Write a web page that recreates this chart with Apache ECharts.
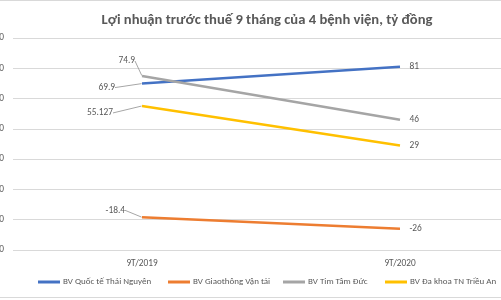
<!DOCTYPE html>
<html><head><meta charset="utf-8">
<script src="https://cdn.jsdelivr.net/npm/echarts@6/dist/echarts.min.js"></script>
<style>html,body{margin:0;padding:0;background:#fff}#c{width:501px;height:300px}</style>
</head><body><div id="c"></div>
<script>
const categories = ['9T/2019', '9T/2020'];
const seriesNames = ['BV Quốc tế Thái Nguyên', 'BV Giaothông Vận tải', 'BV Tim Tâm Đức', 'BV Đa khoa TN Triều An'];
const thaiNguyen = [69.9, 81];
const giaoThong = [-18.4, -26];
const timTamDuc = [74.9, 46];
const trieuAn = [55.127, 29];
const labelTexts = [['69.9', '81'], ['-18.4', '-26'], ['74.9', '46'], ['55.127', '29']];
const colors = ['#4472C4', '#ED7D31', '#A5A5A5', '#FFC000'];
const FONT = 'Carlito, Calibri, Lato, sans-serif';
// [right-edge dx, center dy] of the first-point label relative to its point
const firstOffsets = [[-27, 4], [-17, -7], [-7, -15], [-29, 7]];
const legendLefts = [38, 168, 283, 385];

const chart = echarts.init(document.getElementById('c'), null, {renderer: 'canvas'});
const dataSets = [thaiNguyen, giaoThong, timTamDuc, trieuAn];
const series = dataSets.map((d, i) => ({
  name: seriesNames[i],
  type: 'line',
  data: d.map((v, j) => ({value: v, labelLine: {show: j === 0}})),
  symbol: 'circle',
  symbolSize: 1,
  showSymbol: true,
  lineStyle: {width: 2.5, color: colors[i]},
  itemStyle: {color: 'rgba(0,0,0,0)', borderWidth: 0},
  label: {
    show: true, position: 'right', distance: 9,
    color: '#595959', fontFamily: FONT, fontSize: 9.4,
    formatter: p => labelTexts[i][p.dataIndex]
  },
  labelLine: {show: true, lineStyle: {color: '#A6A6A6', width: 1}},
  labelLayout: p => {
    if (p.dataIndex === 0) {
      const cx = p.rect.x + p.rect.width / 2, cy = p.rect.y + p.rect.height / 2;
      return {x: cx + firstOffsets[i][0], y: cy + firstOffsets[i][1], align: 'right', verticalAlign: 'middle'};
    }
    return {};
  }
}));

const legends = seriesNames.map((n, i) => ({
  data: [{name: n, itemStyle: {color: colors[i], opacity: 1}}],
  left: legendLefts[i], top: 277.5, padding: 0,
  itemWidth: 22, itemHeight: 3,
  icon: 'rect',
  textStyle: {fontFamily: FONT, fontSize: 9, color: '#595959', padding: [0, 0, 0, -2]}
}));

chart.setOption({
  animation: false,
  color: colors,
  title: {
    text: 'Lợi nhuận trước thuế 9 tháng của 4 bệnh viện, tỷ đồng',
    left: 262, top: 8, textAlign: 'center',
    textStyle: {fontFamily: FONT, fontSize: 14.6, fontWeight: 'bold', color: '#595959'}
  },
  legend: legends,
  grid: {left: 13, top: 38, width: 516, height: 212, containLabel: false, outerBoundsMode: 'none'},
  xAxis: {
    type: 'category', data: categories, boundaryGap: true,
    axisLine: {show: false}, axisTick: {show: false},
    axisLabel: {color: '#595959', fontFamily: FONT, fontSize: 9.3, margin: 9}
  },
  yAxis: {
    type: 'value', min: -40, max: 100, interval: 20,
    axisLine: {show: false}, axisTick: {show: false},
    axisLabel: {color: '#595959', fontFamily: FONT, fontSize: 9.3, margin: 9},
    splitLine: {lineStyle: {color: '#D9D9D9', width: 1}}
  },
  graphic: [
    {type: 'line', shape: {x1: 0, y1: 0.5, x2: 501, y2: 0.5}, style: {stroke: '#D9D9D9', lineWidth: 1}},
    {type: 'line', shape: {x1: 0, y1: 297.5, x2: 501, y2: 297.5}, style: {stroke: '#D9D9D9', lineWidth: 1}}
  ],
  series: series
});
</script></body></html>
